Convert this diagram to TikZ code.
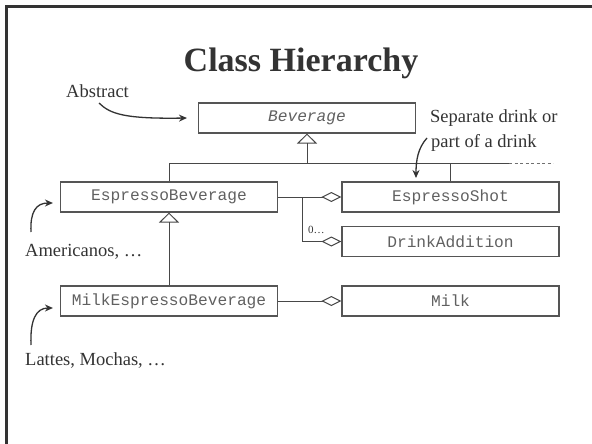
\documentclass[tikz,border=0pt]{standalone}
\usepackage{fontspec}
\setmainfont{Liberation Serif}
\setmonofont{Liberation Mono}
\usetikzlibrary{arrows.meta}
\definecolor{ink}{HTML}{333333}
\definecolor{boxtext}{HTML}{606060}
\definecolor{boxline}{HTML}{555555}
\begin{document}
\begin{tikzpicture}[x=1pt,y=-1pt,
  cls/.style={draw=boxline,line width=1.1pt,minimum width=217pt,minimum height=30pt,inner sep=0pt,font=\fontsize{16.2}{18}\ttfamily,text=boxtext},
  conn/.style={draw=ink!90,line width=1pt},
  inh/.style={conn,{Triangle[open,length=10pt,width=20pt,line width=1pt]}-},
  agg/.style={conn,-{Diamond[open,length=20pt,width=10pt,line width=1pt]}},
  ann/.style={draw=ink,line width=1.3pt,-{Stealth[length=8pt,width=7pt]}},
  lbl/.style={text=ink,font=\fontsize{18.5}{25}\selectfont,inner sep=0pt,anchor=base west}]
\useasboundingbox (0,0) rectangle (592,444);
% frame
\draw[ink,line width=2.2pt] (6.5,444) -- (6.5,6.5) -- (592,6.5);
% title
\node[text=ink,font=\fontsize{34}{40}\selectfont\bfseries,inner sep=0pt,anchor=base] (title) at (301,72) {Class Hierarchy};
% classes
\node[cls,font=\fontsize{16.2}{18}\ttfamily\itshape] (bev) at (307,118) {Beverage};
\node[cls] (esb) at (169,197) {EspressoBeverage};
\node[cls] (shot) at (450.5,197) {EspressoShot};
\node[cls] (add) at (450.5,241.5) {DrinkAddition};
\node[cls] (mesb) at (169,301) {MilkEspressoBeverage};
\node[cls] (milk) at (450.5,301) {Milk};
% inheritance
\coordinate (j) at (307,163);
\coordinate (barend) at (509,163);
\coordinate (dashend) at (553,163);
\draw[inh] (bev.south) -- (j);
\draw[conn] (esb.north) -- (esb.north |- j) -- (barend);
\draw[conn,draw=ink!70,dash pattern=on 3pt off 2.5pt] (barend) -- (dashend);
\draw[conn] (shot.north) -- (shot.north |- j);
\draw[inh] (esb.south) -- (mesb.north);
% aggregation
\draw[agg] (esb.east) -- (shot.west);
\coordinate (k) at (302,197);
\draw[agg] (k) |- (add.west);
\node[text=ink,font=\fontsize{11}{13}\selectfont,inner sep=0pt,anchor=base west] (mult) at (308,233) {0…};
\draw[agg] (mesb.east) -- (milk.west);
% annotations
\node[lbl] (abs) at (66,97) {Abstract};
\node[lbl] (sep1) at (430,122) {Separate drink or};
\node[lbl] (sep2) at (431,147) {part of a drink};
\node[lbl] (amer) at (25,256) {Americanos, …};
\node[lbl] (latt) at (25,365) {Lattes, Mochas, …};
\coordinate (absfrom) at (99,103);
\draw[ann] (absfrom) .. controls (110,114) and (125,119) .. ([xshift=-11pt]bev.west);
\coordinate (sepfrom) at (427,138);
\coordinate (septo) at (416,178);
\draw[ann] (sepfrom) .. controls (418,148) and (416,160) .. (septo);
\coordinate (amerfrom) at (31,232);
\draw[ann] (amerfrom) .. controls (30,212) and (36,203) .. ([xshift=-7pt,yshift=-6pt]esb.west);
\coordinate (lattfrom) at (31,345);
\draw[ann] (lattfrom) .. controls (30,320) and (36,308) .. ([xshift=-7pt,yshift=-7pt]mesb.west);
\end{tikzpicture}
\end{document}
